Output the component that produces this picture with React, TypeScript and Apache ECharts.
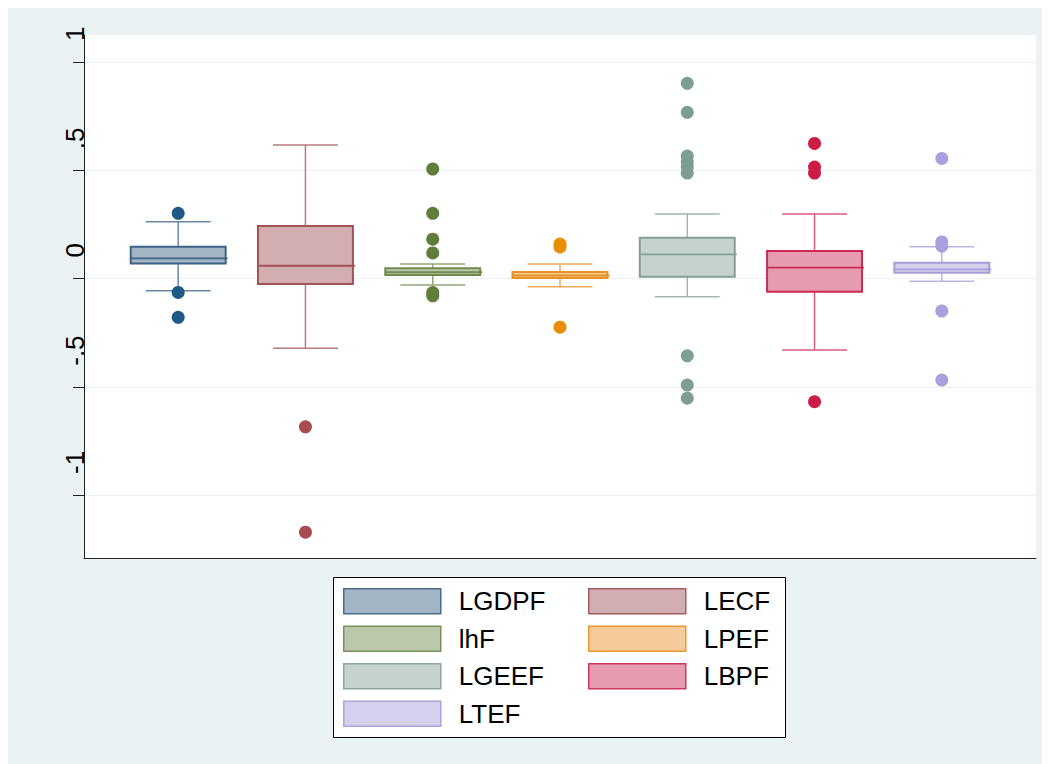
import React, { useEffect, useRef } from 'react';
import * as echarts from 'echarts';

// ---- data ----
const categories = ['LGDPF', 'LECF', 'lhF', 'LPEF', 'LGEEF', 'LBPF', 'LTEF'];
const lowerWhisker = [-0.056, -0.322, -0.030, -0.038, -0.084, -0.330, -0.013];
const q1Values = [0.070, -0.025, 0.016, 0.002, 0.008, -0.061, 0.027];
const medianValues = [0.093, 0.059, 0.029, 0.014, 0.112, 0.050, 0.042];
const q3Values = [0.147, 0.243, 0.047, 0.030, 0.188, 0.127, 0.073];
const upperWhisker = [0.262, 0.617, 0.067, 0.067, 0.298, 0.298, 0.147];
const outliers = [
  [0.301, -0.064, -0.179],
  [-0.685, -1.172],
  [0.506, 0.301, 0.182, 0.118, -0.065, -0.080],
  [0.159, 0.146, -0.225],
  [0.902, 0.768, 0.566, 0.540, 0.516, 0.487, -0.357, -0.492, -0.553],
  [0.624, 0.515, 0.487, -0.569],
  [0.555, 0.169, 0.150, -0.150, -0.469],
];
const yTicks = [-1, -0.5, 0, 0.5, 1];
const legendColumnA = ['LGDPF', 'lhF', 'LGEEF', 'LTEF'];
const legendColumnB = ['LECF', 'LPEF', 'LBPF'];

// ---- styles ----
const palette: number[][] = [
  [26, 71, 111],
  [144, 53, 59],
  [85, 117, 47],
  [227, 126, 0],
  [110, 142, 132],
  [193, 5, 52],
  [147, 141, 210],
];
const markerPalette: string[] = ['#1F5A85', '#A84A50', '#5E7E3A', '#E98E00', '#7E9D93', '#CB1D45', '#A7A2DE'];
const mix = (c: number[], a: number) =>
  `rgb(${c.map((v) => Math.round(255 - a * (255 - v))).join(',')})`;
const FONT = "'Liberation Sans', Arial, Helvetica, sans-serif";

const fmtTick = (v: number) => {
  if (v === 0) return '0';
  const s = String(Math.abs(v)).replace(/^0/, '');
  return (v < 0 ? '-' : '') + s;
};

export default function App() {
  const ref = useRef<HTMLDivElement>(null);
  useEffect(() => {
    document.body.style.overflow = 'hidden';
    const chart = echarts.init(ref.current!, undefined, { renderer: 'svg' });

    const boxSeries = categories.map((name, i) => ({
      name,
      type: 'custom',
      coordinateSystem: 'cartesian2d',
      encode: { x: 0, y: [1, 2, 3, 4, 5] },
      data: [[i + 1, lowerWhisker[i], q1Values[i], medianValues[i], q3Values[i], upperWhisker[i]]],
      z: 3,
      renderItem: (params: any, api: any) => {
        const x = api.value(0);
        const pLo = api.coord([x, api.value(1)]);
        const pQ1 = api.coord([x, api.value(2)]);
        const pMed = api.coord([x, api.value(3)]);
        const pQ3 = api.coord([x, api.value(4)]);
        const pHi = api.coord([x, api.value(5)]);
        const band = api.size([1, 0])[0];
        const bw = band * 0.746;
        const cw = band * 0.51;
        const cx = pMed[0];
        const c = palette[i];
        const whisk = mix(c, 0.65);
        const border = mix(c, 0.85);
        const fill = mix(c, 0.4);
        return {
          type: 'group',
          children: [
            { type: 'line', shape: { x1: cx, y1: pQ3[1], x2: cx, y2: pHi[1] }, style: { stroke: whisk, lineWidth: 1.5 } },
            { type: 'line', shape: { x1: cx, y1: pQ1[1], x2: cx, y2: pLo[1] }, style: { stroke: whisk, lineWidth: 1.5 } },
            { type: 'line', shape: { x1: cx - cw / 2, y1: pHi[1], x2: cx + cw / 2, y2: pHi[1] }, style: { stroke: whisk, lineWidth: 1.5 } },
            { type: 'line', shape: { x1: cx - cw / 2, y1: pLo[1], x2: cx + cw / 2, y2: pLo[1] }, style: { stroke: whisk, lineWidth: 1.5 } },
            {
              type: 'rect',
              shape: { x: cx - bw / 2, y: pQ3[1], width: bw, height: pQ1[1] - pQ3[1] },
              style: { fill, stroke: border, lineWidth: 2 },
            },
            { type: 'line', shape: { x1: cx - bw / 2, y1: pMed[1], x2: cx + bw / 2 + 2, y2: pMed[1] }, style: { stroke: border, lineWidth: 1.8 } },
          ],
        };
      },
    }));

    const outlierSeries = categories.map((name, i) => ({
      name: name + ' outliers',
      type: 'scatter',
      data: outliers[i].map((v) => [i + 1, v]),
      symbol: 'circle',
      symbolSize: 13,
      z: 4,
      itemStyle: { color: markerPalette[i], opacity: 1 },
    }));

    const legendItem = (name: string) => {
      const i = categories.indexOf(name);
      return {
        name,
        itemStyle: { color: mix(palette[i], 0.4), borderColor: mix(palette[i], 0.8), borderWidth: 1.5 },
      };
    };
    const legendBase = {
      orient: 'vertical',
      top: 580,
      icon: 'rect',
      itemWidth: 97,
      itemHeight: 25,
      itemGap: 11,
      selectedMode: false,
      padding: 0,
      textStyle: { fontSize: 26, color: '#000', fontFamily: FONT, padding: [0, 0, 0, 13] },
    };

    chart.setOption({
      animation: false,
      backgroundColor: '#EAF2F3',
      textStyle: { fontFamily: FONT },
      grid: {
        left: 76,
        top: 27,
        right: 14,
        bottom: 206,
        show: true,
        backgroundColor: '#ffffff',
        borderWidth: 0,
      },
      xAxis: {
        type: 'value',
        min: 0.26,
        max: 7.74,
        axisLine: { show: true, onZero: false, lineStyle: { color: '#222', width: 1 } },
        axisTick: { show: false },
        axisLabel: { show: false },
        splitLine: { show: false },
      },
      yAxis: {
        type: 'value',
        min: -1.291,
        max: 1.125,
        axisLine: { show: true, onZero: false, lineStyle: { color: '#222', width: 1 } },
        axisTick: { show: true, length: 11, customValues: yTicks, lineStyle: { color: '#222', width: 1 } },
        axisLabel: {
          customValues: yTicks,
          formatter: (v: number) => fmtTick(v),
          rotate: 90,
          align: 'left',
          verticalAlign: 'middle',
          padding: [0, 0, 0, 21],
          margin: 9,
          fontSize: 26,
          color: '#000',
          fontFamily: FONT,
        },
        splitLine: { show: true, lineStyle: { color: '#EAF2F3', width: 1 } },
      },
      legend: [
        { ...legendBase, left: 335, data: legendColumnA.map(legendItem) },
        { ...legendBase, left: 580, data: legendColumnB.map(legendItem) },
      ],
      graphic: [
        {
          type: 'rect',
          left: 325,
          top: 569,
          z: 1,
          shape: { width: 452, height: 160 },
          style: { fill: '#fff', stroke: '#000', lineWidth: 1 },
        },
      ],
      series: [...boxSeries, ...outlierSeries],
    });
    return () => chart.dispose();
  }, []);
  return <div ref={ref} style={{ width: 1042, height: 756 }} />;
}
